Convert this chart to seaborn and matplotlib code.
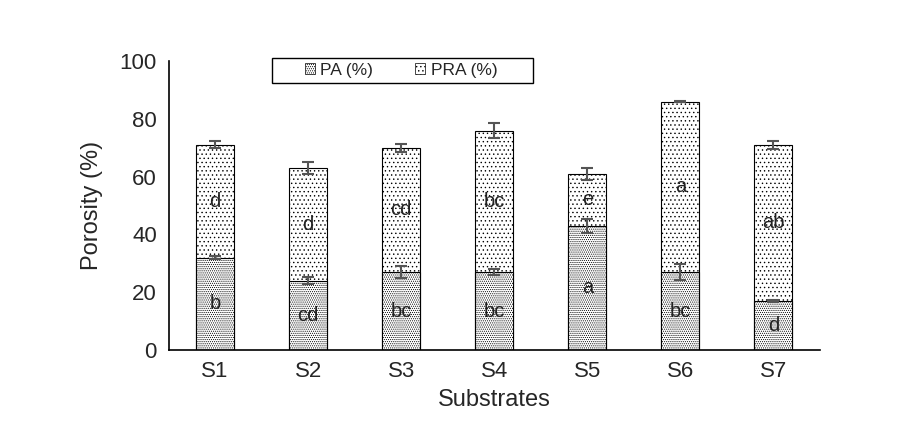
import numpy as np
import pandas as pd
import matplotlib
matplotlib.use("Agg")
import matplotlib.pyplot as plt
import seaborn as sns
from matplotlib.patches import Patch, Rectangle

# data
substrates = ["S1", "S2", "S3", "S4", "S5", "S6", "S7"]
pa = [32, 24, 27, 27, 43, 27, 17]
total = [71, 63, 70, 76, 61, 86, 71]
pa_err = [0.5, 1.2, 2.0, 1.0, 2.5, 2.8, 0.4]
total_err = [1.2, 2.0, 1.5, 2.5, 2.0, 0.3, 1.3]
pa_letters = ["b", "cd", "bc", "bc", "a", "bc", "d"]
pra_letters = ["d", "d", "cd", "bc", "e", "a", "ab"]

pra = [t - p for t, p in zip(total, pa)]
df = pd.DataFrame({"Substrates": substrates, "PA": pa, "PRA": pra, "Total": total})

sns.set_style("white")
plt.rcParams["font.family"] = ["Liberation Sans", "DejaVu Sans"]
plt.rcParams["hatch.linewidth"] = 0.5
plt.rcParams["hatch.color"] = "black"

fig = plt.figure(figsize=(8.97, 4.37), dpi=100)
ax = fig.add_axes([0.188, 0.199, 0.726, 0.661])

# top (PRA) drawn as full stack, PA drawn over it
sns.barplot(data=df, x="Substrates", y="Total", color="white", width=0.41,
            edgecolor="black", linewidth=0.8, ax=ax)
n = len(substrates)
for p in ax.patches[:n]:
    p.set_hatch("....")
sns.barplot(data=df, x="Substrates", y="PA", color="white", width=0.41,
            edgecolor="black", linewidth=0.8, ax=ax)
for p in ax.patches[n:]:
    p.set_hatch("........")

x = np.arange(n)
ax.errorbar(x, total, yerr=total_err, fmt="none", ecolor="#555555",
            elinewidth=1.5, capsize=4.5, capthick=1.5, zorder=5)
ax.errorbar(x, pa, yerr=pa_err, fmt="none", ecolor="#555555",
            elinewidth=1.5, capsize=4.5, capthick=1.5, zorder=5)

for i in range(n):
    ax.text(i, pa[i] / 2, pa_letters[i], ha="center", va="center",
            fontsize=14.5, color="#222222", zorder=6)
    ax.text(i, pa[i] + pra[i] / 2, pra_letters[i], ha="center", va="center",
            fontsize=14.5, color="#222222", zorder=6)

ax.set_ylim(0, 100)
ax.set_xlim(-0.5, n - 0.5)
ax.set_yticks([0, 20, 40, 60, 80, 100])
ax.set_xticks(np.arange(-0.5, n, 1.0), minor=True)
ax.tick_params(axis="x", which="major", length=0, labelsize=16, pad=8)
ax.tick_params(axis="x", which="minor", length=6, width=1.2, direction="out", color="black")
ax.tick_params(axis="y", length=5, width=1.2, direction="out", labelsize=16, color="black")
ax.set_xlabel("Substrates", fontsize=17, labelpad=5)
ax.set_ylabel("Porosity (%)", fontsize=17, labelpad=12)
sns.despine(ax=ax)
for s in ["left", "bottom"]:
    ax.spines[s].set_color("black")
    ax.spines[s].set_linewidth(1.2)

# legend box (wide, Excel style) drawn separately from the entries
fig.patches.append(Rectangle((272 / 897, 1 - 83 / 437), 261 / 897, 25 / 437,
                             transform=fig.transFigure, fill=True, facecolor="white",
                             edgecolor="black", linewidth=1.0, zorder=10))
handles = [Patch(facecolor="white", edgecolor="black", hatch="........", linewidth=0.5),
           Patch(facecolor="white", edgecolor="black", hatch="....", linewidth=0.5)]
leg = fig.legend(handles, ["PA (%)", "PRA (%)"], loc="center",
                 bbox_to_anchor=(0.447, 0.839), ncol=2, fontsize=12.5,
                 frameon=False, handlelength=0.6, handleheight=0.6,
                 columnspacing=2.4, borderpad=0.3, handletextpad=0.3,
                 borderaxespad=0)
leg.set_zorder(11)

fig.savefig("out.png", dpi=100)
